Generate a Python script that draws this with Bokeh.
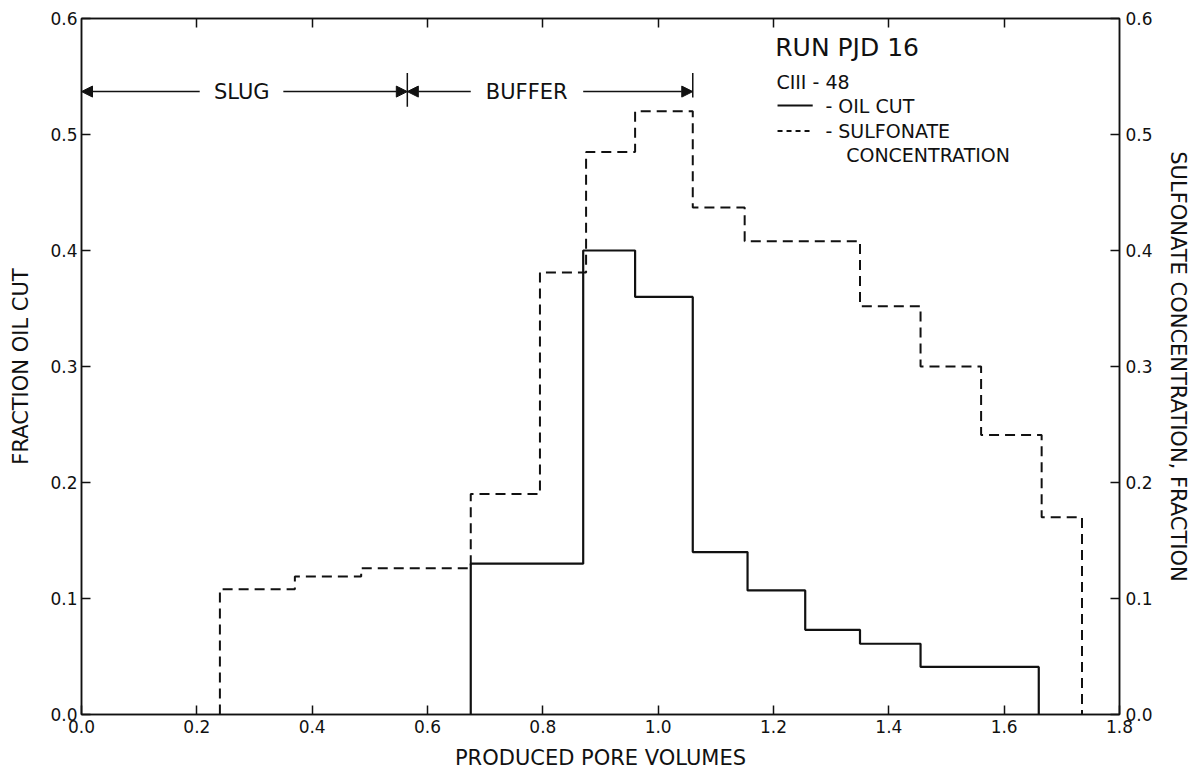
from bokeh.plotting import figure
from bokeh.models import (LinearAxis, Range1d, FixedTicker, Arrow, NormalHead,
                          Label, NumeralTickFormatter)
from bokeh.embed import file_html
from bokeh.resources import INLINE

# ---- data ----
oil_edges = [0.675, 0.87, 0.96, 1.06, 1.155, 1.255, 1.35, 1.455, 1.66]
oil_values = [0.13, 0.40, 0.36, 0.14, 0.107, 0.073, 0.061, 0.041]

sulf_edges = [0.24, 0.37, 0.485, 0.675, 0.795, 0.875, 0.96, 1.06, 1.15,
              1.35, 1.455, 1.56, 1.665, 1.735]
sulf_values = [0.108, 0.119, 0.126, 0.19, 0.381, 0.485, 0.52, 0.437, 0.408,
               0.352, 0.30, 0.241, 0.17]

x_ticks = [0.0, 0.2, 0.4, 0.6, 0.8, 1.0, 1.2, 1.4, 1.6, 1.8]
top_ticks = [0.2, 0.4, 0.6, 0.8, 1.0, 1.2, 1.4, 1.6]
y_ticks = [0.0, 0.1, 0.2, 0.3, 0.4, 0.5, 0.6]

slug_start, slug_end, buffer_end = 0.0, 0.565, 1.06

FONT = "DejaVu Sans"
INK = "#111111"


def step_xy(edges, values):
    xs = [edges[0]] + list(edges)
    ys = [0.0] + list(values) + [0.0]
    return xs, ys


p = figure(width=1180, height=770, output_backend="svg", toolbar_location=None,
           x_range=Range1d(0, 1.8), y_range=Range1d(0, 0.6),
           frame_width=1038, frame_height=696,
           min_border_left=81, min_border_right=61, min_border_top=18,
           min_border_bottom=56)
p.extra_y_ranges = {"sulf": Range1d(0, 0.6)}
p.xgrid.visible = False
p.ygrid.visible = False
p.outline_line_color = INK
p.outline_line_width = 1.5
p.background_fill_color = "white"
p.border_fill_color = "white"


def style_axis(ax, ticks):
    ax.ticker = FixedTicker(ticks=ticks)
    ax.formatter = NumeralTickFormatter(format="0.0")
    ax.major_tick_in = 9
    ax.major_tick_out = 0
    ax.minor_tick_line_color = None
    ax.axis_line_color = INK
    ax.axis_line_width = 1.5
    ax.major_tick_line_color = INK
    ax.major_tick_line_width = 1.5
    ax.major_label_text_font = FONT
    ax.major_label_text_font_size = "17px"
    ax.major_label_text_color = INK
    ax.axis_label_text_font = FONT
    ax.axis_label_text_font_size = "21px"
    ax.axis_label_text_font_style = "normal"
    ax.axis_label_text_color = INK


style_axis(p.xaxis[0], x_ticks)
p.xaxis[0].axis_label = "PRODUCED PORE VOLUMES"
p.xaxis[0].axis_label_standoff = 10
p.xaxis[0].major_label_standoff = 5

style_axis(p.yaxis[0], y_ticks)
p.yaxis[0].axis_label = "FRACTION OIL CUT"
p.yaxis[0].major_label_standoff = 4
p.yaxis[0].axis_label_standoff = 14

right = LinearAxis(y_range_name="sulf", axis_label="SULFONATE CONCENTRATION, FRACTION")
style_axis(right, y_ticks)
right.major_label_standoff = 6
right.axis_label_standoff = 10
p.add_layout(right, "right")

top = LinearAxis()
style_axis(top, top_ticks)
top.major_label_overrides = {t: "" for t in top_ticks}
top.major_label_standoff = 0
p.add_layout(top, "above")

# ---- data curves ----
ox, oy = step_xy(oil_edges, oil_values)
sx, sy = step_xy(sulf_edges, sulf_values)
p.step(x=ox, y=oy, mode="after", line_color=INK, line_width=2.2)
p.step(x=sx, y=sy, mode="after", line_color=INK, line_width=2,
       line_dash="10 6", y_range_name="sulf")

# ---- SLUG / BUFFER annotation ----
ay = 0.537
head = dict(size=11, fill_color=INK, line_color=INK)
p.add_layout(Arrow(x_start=0.205, y_start=ay, x_end=slug_start, y_end=ay,
                   end=NormalHead(**head), line_color=INK, line_width=1.5))
p.add_layout(Arrow(x_start=0.35, y_start=ay, x_end=slug_end, y_end=ay,
                   end=NormalHead(**head), line_color=INK, line_width=1.5))
p.add_layout(Arrow(x_start=0.675, y_start=ay, x_end=slug_end, y_end=ay,
                   end=NormalHead(**head), line_color=INK, line_width=1.5))
p.add_layout(Arrow(x_start=0.87, y_start=ay, x_end=buffer_end, y_end=ay,
                   end=NormalHead(**head), line_color=INK, line_width=1.5))
p.segment(x0=[slug_end, buffer_end], y0=[0.524, 0.532],
          x1=[slug_end, buffer_end], y1=[0.553, 0.553], line_color=INK, line_width=1.5)

lab = dict(text_font=FONT, text_color=INK, text_baseline="middle")
p.add_layout(Label(x=0.278, y=ay, text="SLUG", text_align="center",
                   text_font_size="21px", **lab))
p.add_layout(Label(x=0.772, y=ay, text="BUFFER", text_align="center",
                   text_font_size="21px", **lab))

# ---- legend block ----
p.add_layout(Label(x=1.203, y=0.575, text="RUN PJD 16", text_font_size="25px", **lab))
p.add_layout(Label(x=1.205, y=0.545, text="CIII - 48", text_font_size="19px", **lab))
p.segment(x0=[1.207], y0=[0.525], x1=[1.268], y1=[0.525], line_color=INK, line_width=2.2)
p.segment(x0=[1.207], y0=[0.503], x1=[1.268], y1=[0.503], line_color=INK, line_width=2,
          line_dash="5 4")
p.add_layout(Label(x=1.29, y=0.525, text="- OIL CUT", text_font_size="19px", **lab))
p.add_layout(Label(x=1.29, y=0.503, text="- SULFONATE", text_font_size="19px", **lab))
p.add_layout(Label(x=1.326, y=0.482, text="CONCENTRATION", text_font_size="19px", **lab))

open("out.html", "w").write(file_html(p, INLINE))
